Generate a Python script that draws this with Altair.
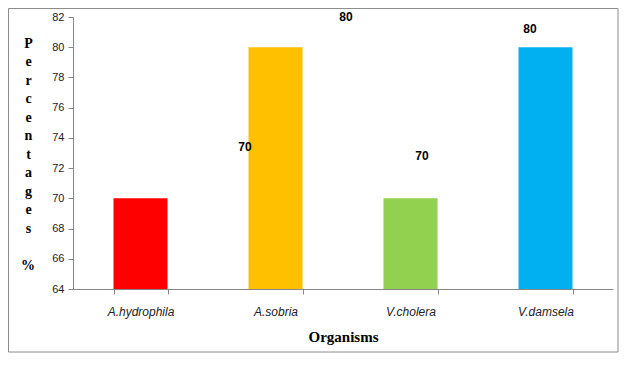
import altair as alt
import pandas as pd

organisms = ["A.hydrophila", "A.sobria", "V.cholera", "V.damsela"]
values = [70, 80, 70, 80]
colors = ["#FF0000", "#FFC000", "#92D050", "#00B0F0"]
label_y = [73.4, 82.0, 72.8, 81.2]
label_dx = [104.5, 70.5, 11.5, -15.5]
y_ticks = [64, 66, 68, 70, 72, 74, 76, 78, 80, 82]

df = pd.DataFrame({"org": organisms, "value": values, "label_y": label_y,
                   "idx": list(range(len(organisms)))})

W, H = 540, 272

x_scale = alt.Scale(domain=organisms, paddingInner=0.6, paddingOuter=0.3)
y_scale = alt.Scale(domain=[64, 82], nice=False, zero=False)

x_axis = alt.Axis(title="Organisms", labelAngle=0, tickBand="extent",
                  labelFont="Liberation Sans", labelFontStyle="italic",
                  labelFontSize=12, labelColor="#222", labelPadding=12,
                  tickSize=5, tickColor="#868686", domainColor="#868686",
                  titleFont="Liberation Serif", titleFontSize=15,
                  titleFontWeight="bold", titleColor="#000", titlePadding=12)

y_title = ["P", "e", "r", "c", "e", "n", "t", "a", "g", "e", "s"]

y_axis = alt.Axis(values=y_ticks, grid=False, labelOverlap=False,
                  title=y_title, titleAngle=0, titleAlign="center",
                  titleBaseline="top", titleX=-45, titleY=19,
                  titleLineHeight=18.5, titleFont="Liberation Serif",
                  titleFontSize=14, titleFontWeight="bold", titleColor="#000",
                  labelFont="Liberation Sans", labelFontSize=11,
                  labelColor="#222", labelPadding=4, tickSize=5,
                  tickColor="#868686", domainColor="#868686")

base0 = alt.Chart(df).transform_filter(alt.datum.idx == 0)
cover_top = base0.mark_rule(color="white", strokeWidth=3, clip=False).encode(
    x=alt.value(1), x2=alt.value(W + 2), y=alt.value(0))
cover_right = base0.mark_rule(color="white", strokeWidth=3, clip=False).encode(
    x=alt.value(W), y=alt.value(-2), y2=alt.value(H - 1))

bars = alt.Chart(df).mark_bar().encode(
    x=alt.X("org:N", sort=organisms, scale=x_scale, axis=x_axis),
    y=alt.Y("value:Q", scale=y_scale, axis=y_axis),
    y2=alt.datum(64),
    color=alt.Color("org:N", sort=organisms,
                    scale=alt.Scale(domain=organisms, range=colors), legend=None),
)

layers = [cover_top, cover_right, bars]
for i in range(len(organisms)):
    t = alt.Chart(df).transform_filter(alt.datum.idx == i).mark_text(
        dx=label_dx[i], font="Liberation Sans", fontSize=12, fontWeight="bold",
        color="#000", baseline="middle", align="center"
    ).encode(
        x=alt.X("org:N", sort=organisms, scale=x_scale, axis=x_axis),
        y=alt.Y("label_y:Q", scale=y_scale, axis=y_axis),
        text=alt.Text("value:Q"),
    )
    layers.append(t)

pct = base0.mark_text(
    text="%", font="Liberation Serif", fontSize=14, fontWeight="bold",
    color="#000", align="center", baseline="middle"
).encode(x=alt.value(-45), y=alt.value(249))
layers.append(pct)

border = base0.mark_rect(fill="transparent", stroke="#8c8c8c", strokeWidth=1,
                         clip=False).encode(
    x=alt.value(-64.5), x2=alt.value(545), y=alt.value(-8.5), y2=alt.value(335))
layers.append(border)

chart = alt.layer(*layers).properties(
    width=W, height=H,
    autosize=alt.AutoSizeParams(type="none"),
    padding={"left": 65, "top": 9, "right": 6, "bottom": 64},
    view=alt.ViewBackground(stroke="transparent", strokeWidth=0),
).configure(background="white", view=alt.ViewConfig(stroke="transparent", strokeWidth=0))

chart.save("out.html", embed_options={"renderer": "svg", "actions": False})
